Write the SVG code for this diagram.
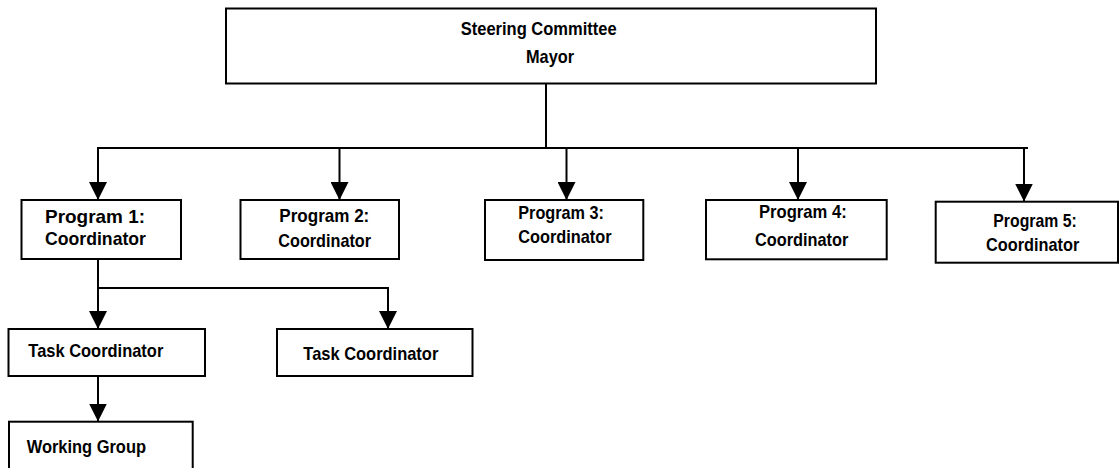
<svg xmlns="http://www.w3.org/2000/svg" width="1120" height="468" viewBox="0 0 1120 468">
  <style>
    .box { fill: #ffffff; stroke: #000000; stroke-width: 2; }
    .wire { fill: none; stroke: #000000; stroke-width: 2; }
    .arrow { fill: none; stroke: #000000; stroke-width: 2; marker-end: url(#head); }
    .label { font-family: "Liberation Sans", Arial, sans-serif; font-weight: bold; font-size: 18.5px; fill: #000000; }
  </style>
  <defs>
    <marker id="head" viewBox="0 0 18 18" refX="18" refY="9" markerWidth="18" markerHeight="18" markerUnits="userSpaceOnUse" orient="auto">
      <path d="M0,0 L18,9 L0,18 Z" fill="#000000"/>
    </marker>
  </defs>
  <rect width="1120" height="468" fill="#ffffff"/>

  <!-- connectors -->
  <g id="connectors">
    <path class="wire" d="M546,84 V148"/>
    <path class="wire" d="M97,148 H1028"/>
    <path class="arrow" d="M98,148 V200"/>
    <path class="arrow" d="M339.5,148 V200"/>
    <path class="arrow" d="M566.5,148 V200"/>
    <path class="arrow" d="M798,148 V200"/>
    <path class="arrow" d="M1024,148 V201.5"/>
    <path class="arrow" d="M98,259 V329"/>
    <path class="arrow" d="M98,288 H388 V329"/>
    <path class="arrow" d="M98,376 V421.5"/>
  </g>

  <!-- steering committee -->
  <g id="steering">
    <rect class="box" x="226" y="8.5" width="650" height="75"/>
    <text class="label" x="460.7" y="35" textLength="156" lengthAdjust="spacingAndGlyphs">Steering Committee</text>
    <text class="label" x="526" y="63.3" textLength="48" lengthAdjust="spacingAndGlyphs">Mayor</text>
  </g>

  <!-- programs -->
  <g id="program1">
    <rect class="box" x="21.5" y="200" width="159.5" height="59"/>
    <text class="label" x="45" y="223" textLength="100" lengthAdjust="spacingAndGlyphs">Program 1:</text>
    <text class="label" x="45" y="245" textLength="101" lengthAdjust="spacingAndGlyphs">Coordinator</text>
  </g>
  <g id="program2">
    <rect class="box" x="240.5" y="200" width="158.5" height="59"/>
    <text class="label" x="279.3" y="222" textLength="90" lengthAdjust="spacingAndGlyphs">Program 2:</text>
    <text class="label" x="278.3" y="247" textLength="92.7" lengthAdjust="spacingAndGlyphs">Coordinator</text>
  </g>
  <g id="program3">
    <rect class="box" x="485" y="200" width="158.3" height="60"/>
    <text class="label" x="518.3" y="219" textLength="85.7" lengthAdjust="spacingAndGlyphs">Program 3:</text>
    <text class="label" x="518.3" y="243" textLength="93.3" lengthAdjust="spacingAndGlyphs">Coordinator</text>
  </g>
  <g id="program4">
    <rect class="box" x="706" y="200" width="180.7" height="59.3"/>
    <text class="label" x="759" y="218" textLength="87.7" lengthAdjust="spacingAndGlyphs">Program 4:</text>
    <text class="label" x="755" y="246" textLength="93.3" lengthAdjust="spacingAndGlyphs">Coordinator</text>
  </g>
  <g id="program5">
    <rect class="box" x="935.7" y="201.7" width="182.3" height="61"/>
    <text class="label" x="993.3" y="227" textLength="83.4" lengthAdjust="spacingAndGlyphs">Program 5:</text>
    <text class="label" x="986" y="251" textLength="93.3" lengthAdjust="spacingAndGlyphs">Coordinator</text>
  </g>

  <!-- task level -->
  <g id="task1">
    <rect class="box" x="8.5" y="329" width="196.5" height="47"/>
    <text class="label" x="28.3" y="357" textLength="135" lengthAdjust="spacingAndGlyphs">Task Coordinator</text>
  </g>
  <g id="task2">
    <rect class="box" x="277" y="329" width="195.5" height="47"/>
    <text class="label" x="303.3" y="360" textLength="135" lengthAdjust="spacingAndGlyphs">Task Coordinator</text>
  </g>
  <g id="working">
    <rect class="box" x="9" y="421.7" width="183.7" height="60"/>
    <text class="label" x="26.7" y="453" textLength="119.3" lengthAdjust="spacingAndGlyphs">Working Group</text>
  </g>
</svg>
